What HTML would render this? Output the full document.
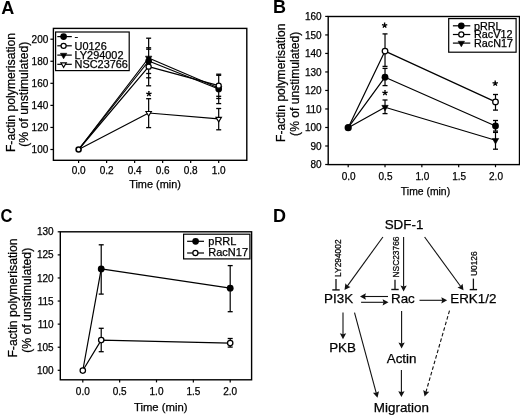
<!DOCTYPE html>
<html><head><meta charset="utf-8"><style>
html,body{margin:0;padding:0;background:#fff;}
svg{display:block;font-family:"Liberation Sans", sans-serif;filter:grayscale(1) blur(0.3px);}
text{stroke:#000;stroke-width:0.25px;}
text[font-weight=bold]{stroke-width:0;}
</style></head><body>
<svg width="520" height="415" viewBox="0 0 520 415">
<rect width="520" height="415" fill="#fff"/>
<text x="1.20" y="13.80" font-size="18" text-anchor="start" font-weight="bold" fill="#000" >A</text>
<rect x="53.4" y="28.4" width="193.4" height="131.9" fill="none" stroke="#000" stroke-width="1.4"/>
<line x1="50.40" y1="149.50" x2="53.40" y2="149.50" stroke="#000" stroke-width="1.2" />
<text x="48.30" y="153.10" font-size="10" text-anchor="end" font-weight="normal" fill="#000" >100</text>
<line x1="50.40" y1="127.44" x2="53.40" y2="127.44" stroke="#000" stroke-width="1.2" />
<text x="48.30" y="131.04" font-size="10" text-anchor="end" font-weight="normal" fill="#000" >120</text>
<line x1="50.40" y1="105.38" x2="53.40" y2="105.38" stroke="#000" stroke-width="1.2" />
<text x="48.30" y="108.98" font-size="10" text-anchor="end" font-weight="normal" fill="#000" >140</text>
<line x1="50.40" y1="83.32" x2="53.40" y2="83.32" stroke="#000" stroke-width="1.2" />
<text x="48.30" y="86.92" font-size="10" text-anchor="end" font-weight="normal" fill="#000" >160</text>
<line x1="50.40" y1="61.26" x2="53.40" y2="61.26" stroke="#000" stroke-width="1.2" />
<text x="48.30" y="64.86" font-size="10" text-anchor="end" font-weight="normal" fill="#000" >180</text>
<line x1="50.40" y1="39.20" x2="53.40" y2="39.20" stroke="#000" stroke-width="1.2" />
<text x="48.30" y="42.80" font-size="10" text-anchor="end" font-weight="normal" fill="#000" >200</text>
<line x1="78.60" y1="160.30" x2="78.60" y2="162.90" stroke="#000" stroke-width="1.2" />
<text x="78.60" y="173.80" font-size="10" text-anchor="middle" font-weight="normal" fill="#000" >0.0</text>
<line x1="106.62" y1="160.30" x2="106.62" y2="162.90" stroke="#000" stroke-width="1.2" />
<text x="106.62" y="173.80" font-size="10" text-anchor="middle" font-weight="normal" fill="#000" >0.2</text>
<line x1="134.64" y1="160.30" x2="134.64" y2="162.90" stroke="#000" stroke-width="1.2" />
<text x="134.64" y="173.80" font-size="10" text-anchor="middle" font-weight="normal" fill="#000" >0.4</text>
<line x1="162.66" y1="160.30" x2="162.66" y2="162.90" stroke="#000" stroke-width="1.2" />
<text x="162.66" y="173.80" font-size="10" text-anchor="middle" font-weight="normal" fill="#000" >0.6</text>
<line x1="190.68" y1="160.30" x2="190.68" y2="162.90" stroke="#000" stroke-width="1.2" />
<text x="190.68" y="173.80" font-size="10" text-anchor="middle" font-weight="normal" fill="#000" >0.8</text>
<line x1="218.70" y1="160.30" x2="218.70" y2="162.90" stroke="#000" stroke-width="1.2" />
<text x="218.70" y="173.80" font-size="10" text-anchor="middle" font-weight="normal" fill="#000" >1.0</text>
<text x="155.00" y="187.80" font-size="10.9" text-anchor="middle" font-weight="normal" fill="#000" >Time (min)</text>
<text transform="translate(14.60,92.50) rotate(-90) scale(1,1.0)" font-size="12.2" text-anchor="middle" fill="#000">F-actin polymerisation</text>
<text transform="translate(28.20,94.20) rotate(-90) scale(1,1.0)" font-size="12.2" text-anchor="middle" fill="#000">(% of unstimulated)</text>
<line x1="148.65" y1="38.20" x2="148.65" y2="85.80" stroke="#000" stroke-width="1.2" />
<line x1="146.15" y1="38.20" x2="151.15" y2="38.20" stroke="#000" stroke-width="1.3" />
<line x1="146.15" y1="47.80" x2="151.15" y2="47.80" stroke="#000" stroke-width="1.3" />
<line x1="146.15" y1="49.20" x2="151.15" y2="49.20" stroke="#000" stroke-width="1.3" />
<line x1="146.15" y1="73.50" x2="151.15" y2="73.50" stroke="#000" stroke-width="1.3" />
<line x1="146.15" y1="77.80" x2="151.15" y2="77.80" stroke="#000" stroke-width="1.3" />
<line x1="146.15" y1="85.80" x2="151.15" y2="85.80" stroke="#000" stroke-width="1.3" />
<line x1="148.65" y1="98.70" x2="148.65" y2="127.60" stroke="#000" stroke-width="1.2" />
<line x1="146.15" y1="98.70" x2="151.15" y2="98.70" stroke="#000" stroke-width="1.3" />
<line x1="146.15" y1="127.60" x2="151.15" y2="127.60" stroke="#000" stroke-width="1.3" />
<line x1="218.70" y1="74.20" x2="218.70" y2="103.60" stroke="#000" stroke-width="1.2" />
<line x1="216.20" y1="74.20" x2="221.20" y2="74.20" stroke="#000" stroke-width="1.3" />
<line x1="216.20" y1="75.30" x2="221.20" y2="75.30" stroke="#000" stroke-width="1.3" />
<line x1="216.20" y1="96.30" x2="221.20" y2="96.30" stroke="#000" stroke-width="1.3" />
<line x1="216.20" y1="98.50" x2="221.20" y2="98.50" stroke="#000" stroke-width="1.3" />
<line x1="216.20" y1="103.60" x2="221.20" y2="103.60" stroke="#000" stroke-width="1.3" />
<line x1="218.70" y1="108.50" x2="218.70" y2="129.80" stroke="#000" stroke-width="1.2" />
<line x1="216.20" y1="108.50" x2="221.20" y2="108.50" stroke="#000" stroke-width="1.3" />
<line x1="216.20" y1="129.80" x2="221.20" y2="129.80" stroke="#000" stroke-width="1.3" />
<polyline points="78.60,149.50 148.65,113.00 218.70,118.80" fill="none" stroke="#000" stroke-width="1.2" stroke-linejoin="round"/>
<polyline points="78.60,149.50 148.65,58.00 218.70,88.00" fill="none" stroke="#000" stroke-width="1.2" stroke-linejoin="round"/>
<polyline points="78.60,149.50 148.65,61.00 218.70,89.00" fill="none" stroke="#000" stroke-width="1.2" stroke-linejoin="round"/>
<polyline points="78.60,149.50 148.65,66.70 218.70,85.70" fill="none" stroke="#000" stroke-width="1.2" stroke-linejoin="round"/>
<polygon points="145.90,111.57 151.40,111.57 148.65,116.07" fill="#fff" stroke="#000" stroke-width="1.1" stroke-linejoin="miter"/>
<polygon points="215.95,117.37 221.45,117.37 218.70,121.87" fill="#fff" stroke="#000" stroke-width="1.1" stroke-linejoin="miter"/>
<circle cx="148.65" cy="61.00" r="3.35" fill="#000"/>
<polygon points="145.45,56.17 151.85,56.17 148.65,61.67" fill="#000" stroke="#000" stroke-width="0.6" stroke-linejoin="round"/>
<circle cx="218.70" cy="89.00" r="3.35" fill="#000"/>
<polygon points="215.50,86.47 221.90,86.47 218.70,91.97" fill="#000" stroke="#000" stroke-width="0.6" stroke-linejoin="round"/>
<circle cx="148.65" cy="66.70" r="2.55" fill="#fff" stroke="#000" stroke-width="1.25"/>
<circle cx="218.70" cy="85.70" r="2.55" fill="#fff" stroke="#000" stroke-width="1.25"/>
<circle cx="78.60" cy="149.50" r="2.5" fill="#fff" stroke="#000" stroke-width="1.6"/>
<path d="M148.90,93.90L148.90,91.10M148.90,93.90L151.56,93.03M148.90,93.90L150.55,96.17M148.90,93.90L147.25,96.17M148.90,93.90L146.24,93.03" stroke="#000" stroke-width="1.35" stroke-linecap="butt" fill="none"/>
<rect x="55.6" y="32.0" width="73.6" height="38.6" fill="#fff" stroke="#000" stroke-width="1.2"/>
<line x1="57.30" y1="36.60" x2="71.80" y2="36.60" stroke="#000" stroke-width="1.2" />
<line x1="57.30" y1="45.80" x2="71.80" y2="45.80" stroke="#000" stroke-width="1.2" />
<line x1="57.30" y1="55.10" x2="71.80" y2="55.10" stroke="#000" stroke-width="1.2" />
<line x1="57.30" y1="64.30" x2="71.80" y2="64.30" stroke="#000" stroke-width="1.2" />
<circle cx="63.60" cy="36.60" r="3.35" fill="#000"/>
<circle cx="63.60" cy="45.80" r="2.55" fill="#fff" stroke="#000" stroke-width="1.25"/>
<polygon points="60.40,53.27 66.80,53.27 63.60,58.77" fill="#000" stroke="#000" stroke-width="0.6" stroke-linejoin="round"/>
<polygon points="60.85,62.87 66.35,62.87 63.60,67.37" fill="#fff" stroke="#000" stroke-width="1.1" stroke-linejoin="miter"/>
<text x="74.60" y="40.40" font-size="10.9" text-anchor="start" font-weight="normal" fill="#000" >-</text>
<text x="74.60" y="49.60" font-size="10.9" text-anchor="start" font-weight="normal" fill="#000" >U0126</text>
<text x="74.60" y="58.90" font-size="10.9" text-anchor="start" font-weight="normal" fill="#000" >LY294002</text>
<text x="74.60" y="68.10" font-size="10.9" text-anchor="start" font-weight="normal" fill="#000" >NSC23766</text>
<text x="272.90" y="13.40" font-size="18" text-anchor="start" font-weight="bold" fill="#000" >B</text>
<rect x="328.2" y="16.5" width="191.3" height="148.1" fill="none" stroke="#000" stroke-width="1.4"/>
<line x1="325.20" y1="164.50" x2="328.20" y2="164.50" stroke="#000" stroke-width="1.2" />
<text x="321.60" y="168.10" font-size="10" text-anchor="end" font-weight="normal" fill="#000" >80</text>
<line x1="325.20" y1="145.99" x2="328.20" y2="145.99" stroke="#000" stroke-width="1.2" />
<text x="321.60" y="149.59" font-size="10" text-anchor="end" font-weight="normal" fill="#000" >90</text>
<line x1="325.20" y1="127.48" x2="328.20" y2="127.48" stroke="#000" stroke-width="1.2" />
<text x="321.60" y="131.08" font-size="10" text-anchor="end" font-weight="normal" fill="#000" >100</text>
<line x1="325.20" y1="108.97" x2="328.20" y2="108.97" stroke="#000" stroke-width="1.2" />
<text x="321.60" y="112.57" font-size="10" text-anchor="end" font-weight="normal" fill="#000" >110</text>
<line x1="325.20" y1="90.46" x2="328.20" y2="90.46" stroke="#000" stroke-width="1.2" />
<text x="321.60" y="94.06" font-size="10" text-anchor="end" font-weight="normal" fill="#000" >120</text>
<line x1="325.20" y1="71.95" x2="328.20" y2="71.95" stroke="#000" stroke-width="1.2" />
<text x="321.60" y="75.55" font-size="10" text-anchor="end" font-weight="normal" fill="#000" >130</text>
<line x1="325.20" y1="53.44" x2="328.20" y2="53.44" stroke="#000" stroke-width="1.2" />
<text x="321.60" y="57.04" font-size="10" text-anchor="end" font-weight="normal" fill="#000" >140</text>
<line x1="325.20" y1="34.93" x2="328.20" y2="34.93" stroke="#000" stroke-width="1.2" />
<text x="321.60" y="38.53" font-size="10" text-anchor="end" font-weight="normal" fill="#000" >150</text>
<line x1="325.20" y1="16.42" x2="328.20" y2="16.42" stroke="#000" stroke-width="1.2" />
<text x="321.60" y="20.02" font-size="10" text-anchor="end" font-weight="normal" fill="#000" >160</text>
<line x1="348.20" y1="164.60" x2="348.20" y2="167.20" stroke="#000" stroke-width="1.2" />
<text x="348.70" y="179.80" font-size="10" text-anchor="middle" font-weight="normal" fill="#000" >0.0</text>
<line x1="385.02" y1="164.60" x2="385.02" y2="167.20" stroke="#000" stroke-width="1.2" />
<text x="385.52" y="179.80" font-size="10" text-anchor="middle" font-weight="normal" fill="#000" >0.5</text>
<line x1="421.85" y1="164.60" x2="421.85" y2="167.20" stroke="#000" stroke-width="1.2" />
<text x="422.35" y="179.80" font-size="10" text-anchor="middle" font-weight="normal" fill="#000" >1.0</text>
<line x1="458.68" y1="164.60" x2="458.68" y2="167.20" stroke="#000" stroke-width="1.2" />
<text x="459.18" y="179.80" font-size="10" text-anchor="middle" font-weight="normal" fill="#000" >1.5</text>
<line x1="495.50" y1="164.60" x2="495.50" y2="167.20" stroke="#000" stroke-width="1.2" />
<text x="496.00" y="179.80" font-size="10" text-anchor="middle" font-weight="normal" fill="#000" >2.0</text>
<text x="425.50" y="195.40" font-size="10.4" text-anchor="middle" font-weight="normal" fill="#000" >Time (min)</text>
<text transform="translate(284.80,82.80) rotate(-90) scale(1,1.0)" font-size="12.1" text-anchor="middle" fill="#000">F-actin polymerisation</text>
<text transform="translate(298.80,83.80) rotate(-90) scale(1,1.0)" font-size="12.1" text-anchor="middle" fill="#000">(% of unstimulated)</text>
<line x1="385.02" y1="33.90" x2="385.02" y2="66.40" stroke="#000" stroke-width="1.2" />
<line x1="382.52" y1="33.90" x2="387.52" y2="33.90" stroke="#000" stroke-width="1.3" />
<line x1="382.52" y1="66.40" x2="387.52" y2="66.40" stroke="#000" stroke-width="1.3" />
<line x1="385.02" y1="68.40" x2="385.02" y2="85.60" stroke="#000" stroke-width="1.2" />
<line x1="382.52" y1="68.40" x2="387.52" y2="68.40" stroke="#000" stroke-width="1.3" />
<line x1="382.52" y1="85.60" x2="387.52" y2="85.60" stroke="#000" stroke-width="1.3" />
<line x1="385.02" y1="100.00" x2="385.02" y2="113.60" stroke="#000" stroke-width="1.2" />
<line x1="382.52" y1="100.00" x2="387.52" y2="100.00" stroke="#000" stroke-width="1.3" />
<line x1="382.52" y1="113.60" x2="387.52" y2="113.60" stroke="#000" stroke-width="1.3" />
<line x1="495.50" y1="94.50" x2="495.50" y2="110.10" stroke="#000" stroke-width="1.2" />
<line x1="493.00" y1="94.50" x2="498.00" y2="94.50" stroke="#000" stroke-width="1.3" />
<line x1="493.00" y1="110.10" x2="498.00" y2="110.10" stroke="#000" stroke-width="1.3" />
<line x1="495.50" y1="120.50" x2="495.50" y2="131.10" stroke="#000" stroke-width="1.2" />
<line x1="493.00" y1="120.50" x2="498.00" y2="120.50" stroke="#000" stroke-width="1.3" />
<line x1="493.00" y1="131.10" x2="498.00" y2="131.10" stroke="#000" stroke-width="1.3" />
<line x1="495.50" y1="132.40" x2="495.50" y2="149.20" stroke="#000" stroke-width="1.2" />
<line x1="493.00" y1="132.40" x2="498.00" y2="132.40" stroke="#000" stroke-width="1.3" />
<line x1="493.00" y1="149.20" x2="498.00" y2="149.20" stroke="#000" stroke-width="1.3" />
<polyline points="348.20,127.70 385.02,107.20 495.50,140.30" fill="none" stroke="#000" stroke-width="1.2" stroke-linejoin="round"/>
<polyline points="348.20,127.70 385.02,77.20 495.50,126.00" fill="none" stroke="#000" stroke-width="1.2" stroke-linejoin="round"/>
<polyline points="348.20,127.70 385.02,51.10 495.50,101.90" fill="none" stroke="#000" stroke-width="1.2" stroke-linejoin="round"/>
<polygon points="381.82,105.37 388.22,105.37 385.02,110.87" fill="#000" stroke="#000" stroke-width="0.6" stroke-linejoin="round"/>
<polygon points="492.30,138.47 498.70,138.47 495.50,143.97" fill="#000" stroke="#000" stroke-width="0.6" stroke-linejoin="round"/>
<circle cx="385.02" cy="77.20" r="3.4" fill="#000"/>
<circle cx="495.50" cy="126.00" r="3.4" fill="#000"/>
<circle cx="385.02" cy="51.10" r="2.8" fill="#fff" stroke="#000" stroke-width="1.25"/>
<circle cx="495.50" cy="101.90" r="2.8" fill="#fff" stroke="#000" stroke-width="1.25"/>
<circle cx="348.20" cy="127.70" r="3.6" fill="#000"/>
<path d="M384.60,25.40L384.60,22.60M384.60,25.40L387.26,24.53M384.60,25.40L386.25,27.67M384.60,25.40L382.95,27.67M384.60,25.40L381.94,24.53" stroke="#000" stroke-width="1.35" stroke-linecap="butt" fill="none"/>
<path d="M385.00,92.90L385.00,90.10M385.00,92.90L387.66,92.03M385.00,92.90L386.65,95.17M385.00,92.90L383.35,95.17M385.00,92.90L382.34,92.03" stroke="#000" stroke-width="1.35" stroke-linecap="butt" fill="none"/>
<path d="M495.20,83.40L495.20,80.60M495.20,83.40L497.86,82.53M495.20,83.40L496.85,85.67M495.20,83.40L493.55,85.67M495.20,83.40L492.54,82.53" stroke="#000" stroke-width="1.35" stroke-linecap="butt" fill="none"/>
<rect x="448.7" y="18.6" width="67.4" height="33.6" fill="#fff" stroke="#000" stroke-width="1.2"/>
<line x1="452.90" y1="25.80" x2="470.30" y2="25.80" stroke="#000" stroke-width="1.2" />
<line x1="452.90" y1="34.50" x2="470.30" y2="34.50" stroke="#000" stroke-width="1.2" />
<line x1="452.90" y1="43.10" x2="470.30" y2="43.10" stroke="#000" stroke-width="1.2" />
<circle cx="461.30" cy="25.80" r="3.35" fill="#000"/>
<circle cx="461.30" cy="34.50" r="2.55" fill="#fff" stroke="#000" stroke-width="1.25"/>
<polygon points="458.10,41.27 464.50,41.27 461.30,46.77" fill="#000" stroke="#000" stroke-width="0.6" stroke-linejoin="round"/>
<text x="474.00" y="29.60" font-size="10.8" text-anchor="start" font-weight="normal" fill="#000" >pRRL</text>
<text x="474.00" y="38.30" font-size="10.8" text-anchor="start" font-weight="normal" fill="#000" >RacV12</text>
<text x="474.00" y="46.90" font-size="10.8" text-anchor="start" font-weight="normal" fill="#000" >RacN17</text>
<text transform="translate(0.60,222.30) scale(0.92,1)" font-size="18" text-anchor="start" font-weight="bold" fill="#000" >C</text>
<rect x="60.3" y="231.8" width="191.3" height="148.0" fill="none" stroke="#000" stroke-width="1.4"/>
<line x1="57.70" y1="370.30" x2="60.30" y2="370.30" stroke="#000" stroke-width="1.2" />
<text x="53.60" y="373.90" font-size="10" text-anchor="end" font-weight="normal" fill="#000" >100</text>
<line x1="57.70" y1="347.22" x2="60.30" y2="347.22" stroke="#000" stroke-width="1.2" />
<text x="53.60" y="350.82" font-size="10" text-anchor="end" font-weight="normal" fill="#000" >105</text>
<line x1="57.70" y1="324.13" x2="60.30" y2="324.13" stroke="#000" stroke-width="1.2" />
<text x="53.60" y="327.73" font-size="10" text-anchor="end" font-weight="normal" fill="#000" >110</text>
<line x1="57.70" y1="301.05" x2="60.30" y2="301.05" stroke="#000" stroke-width="1.2" />
<text x="53.60" y="304.65" font-size="10" text-anchor="end" font-weight="normal" fill="#000" >115</text>
<line x1="57.70" y1="277.96" x2="60.30" y2="277.96" stroke="#000" stroke-width="1.2" />
<text x="53.60" y="281.56" font-size="10" text-anchor="end" font-weight="normal" fill="#000" >120</text>
<line x1="57.70" y1="254.88" x2="60.30" y2="254.88" stroke="#000" stroke-width="1.2" />
<text x="53.60" y="258.48" font-size="10" text-anchor="end" font-weight="normal" fill="#000" >125</text>
<line x1="57.70" y1="231.79" x2="60.30" y2="231.79" stroke="#000" stroke-width="1.2" />
<text x="53.60" y="235.39" font-size="10" text-anchor="end" font-weight="normal" fill="#000" >130</text>
<line x1="82.80" y1="379.80" x2="82.80" y2="382.40" stroke="#000" stroke-width="1.2" />
<text x="82.80" y="394.70" font-size="10" text-anchor="middle" font-weight="normal" fill="#000" >0.0</text>
<line x1="119.65" y1="379.80" x2="119.65" y2="382.40" stroke="#000" stroke-width="1.2" />
<text x="119.65" y="394.70" font-size="10" text-anchor="middle" font-weight="normal" fill="#000" >0.5</text>
<line x1="156.50" y1="379.80" x2="156.50" y2="382.40" stroke="#000" stroke-width="1.2" />
<text x="156.50" y="394.70" font-size="10" text-anchor="middle" font-weight="normal" fill="#000" >1.0</text>
<line x1="193.35" y1="379.80" x2="193.35" y2="382.40" stroke="#000" stroke-width="1.2" />
<text x="193.35" y="394.70" font-size="10" text-anchor="middle" font-weight="normal" fill="#000" >1.5</text>
<line x1="230.20" y1="379.80" x2="230.20" y2="382.40" stroke="#000" stroke-width="1.2" />
<text x="230.20" y="394.70" font-size="10" text-anchor="middle" font-weight="normal" fill="#000" >2.0</text>
<text x="160.70" y="411.30" font-size="11.3" text-anchor="middle" font-weight="normal" fill="#000" >Time (min)</text>
<text transform="translate(17.10,298.00) rotate(-90) scale(1,1.0)" font-size="12.2" text-anchor="middle" fill="#000">F-actin polymerisation</text>
<text transform="translate(30.80,300.30) rotate(-90) scale(1,1.0)" font-size="12.2" text-anchor="middle" fill="#000">(% of unstimulated)</text>
<line x1="101.22" y1="244.80" x2="101.22" y2="294.10" stroke="#000" stroke-width="1.2" />
<line x1="98.72" y1="244.80" x2="103.72" y2="244.80" stroke="#000" stroke-width="1.3" />
<line x1="98.72" y1="294.10" x2="103.72" y2="294.10" stroke="#000" stroke-width="1.3" />
<line x1="230.20" y1="265.60" x2="230.20" y2="311.70" stroke="#000" stroke-width="1.2" />
<line x1="227.70" y1="265.60" x2="232.70" y2="265.60" stroke="#000" stroke-width="1.3" />
<line x1="227.70" y1="311.70" x2="232.70" y2="311.70" stroke="#000" stroke-width="1.3" />
<line x1="101.22" y1="328.30" x2="101.22" y2="351.70" stroke="#000" stroke-width="1.2" />
<line x1="98.72" y1="328.30" x2="103.72" y2="328.30" stroke="#000" stroke-width="1.3" />
<line x1="98.72" y1="351.70" x2="103.72" y2="351.70" stroke="#000" stroke-width="1.3" />
<line x1="230.20" y1="338.50" x2="230.20" y2="347.10" stroke="#000" stroke-width="1.2" />
<line x1="227.70" y1="338.50" x2="232.70" y2="338.50" stroke="#000" stroke-width="1.3" />
<line x1="227.70" y1="347.10" x2="232.70" y2="347.10" stroke="#000" stroke-width="1.3" />
<polyline points="82.80,370.50 101.22,268.90 230.20,288.20" fill="none" stroke="#000" stroke-width="1.2" stroke-linejoin="round"/>
<polyline points="82.80,370.50 101.22,340.10 230.20,343.10" fill="none" stroke="#000" stroke-width="1.2" stroke-linejoin="round"/>
<circle cx="101.22" cy="268.90" r="3.4" fill="#000"/>
<circle cx="230.20" cy="288.20" r="3.4" fill="#000"/>
<circle cx="101.22" cy="340.10" r="2.7" fill="#fff" stroke="#000" stroke-width="1.25"/>
<circle cx="230.20" cy="343.10" r="2.7" fill="#fff" stroke="#000" stroke-width="1.25"/>
<circle cx="82.80" cy="370.60" r="2.7" fill="#fff" stroke="#000" stroke-width="1.25"/>
<rect x="183.6" y="234.2" width="66.3" height="24.7" fill="#fff" stroke="#000" stroke-width="1.2"/>
<line x1="187.10" y1="241.30" x2="204.00" y2="241.30" stroke="#000" stroke-width="1.2" />
<line x1="187.10" y1="253.00" x2="204.00" y2="253.00" stroke="#000" stroke-width="1.2" />
<circle cx="195.60" cy="241.30" r="3.35" fill="#000"/>
<circle cx="195.40" cy="253.00" r="2.55" fill="#fff" stroke="#000" stroke-width="1.25"/>
<text x="208.30" y="244.60" font-size="11.0" text-anchor="start" font-weight="normal" fill="#000" >pRRL</text>
<text x="208.30" y="256.30" font-size="11.0" text-anchor="start" font-weight="normal" fill="#000" >RacN17</text>
<text x="272.90" y="221.60" font-size="18" text-anchor="start" font-weight="bold" fill="#000" >D</text>
<text x="404.00" y="228.80" font-size="13.4" text-anchor="middle" font-weight="normal" fill="#000" >SDF-1</text>
<text x="338.60" y="303.20" font-size="13.4" text-anchor="middle" font-weight="normal" fill="#000" >PI3K</text>
<text x="402.90" y="302.60" font-size="13.4" text-anchor="middle" font-weight="normal" fill="#000" >Rac</text>
<text x="473.30" y="302.90" font-size="13.4" text-anchor="middle" font-weight="normal" fill="#000" >ERK1/2</text>
<text x="342.60" y="352.30" font-size="13.4" text-anchor="middle" font-weight="normal" fill="#000" >PKB</text>
<text x="401.60" y="362.80" font-size="13.4" text-anchor="middle" font-weight="normal" fill="#000" >Actin</text>
<text x="401.40" y="412.10" font-size="13.4" text-anchor="middle" font-weight="normal" fill="#000" >Migration</text>
<text transform="translate(340.60,258.20) rotate(-90) scale(1,1.0)" font-size="8.4" text-anchor="middle" fill="#000">LY294002</text>
<text transform="translate(398.60,257.00) rotate(-90) scale(1,1.0)" font-size="8.4" text-anchor="middle" fill="#000">NSC23766</text>
<text transform="translate(477.30,263.70) rotate(-90) scale(1,1.0)" font-size="8.4" text-anchor="middle" fill="#000">U0126</text>
<line x1="336.00" y1="278.90" x2="336.00" y2="289.90" stroke="#111" stroke-width="1.3" />
<line x1="332.30" y1="289.90" x2="339.70" y2="289.90" stroke="#111" stroke-width="1.4" />
<line x1="395.00" y1="279.80" x2="395.00" y2="289.50" stroke="#111" stroke-width="1.3" />
<line x1="391.30" y1="289.50" x2="398.70" y2="289.50" stroke="#111" stroke-width="1.4" />
<line x1="473.40" y1="278.60" x2="473.40" y2="289.60" stroke="#111" stroke-width="1.3" />
<line x1="469.70" y1="289.60" x2="477.10" y2="289.60" stroke="#111" stroke-width="1.4" />
<line x1="382.90" y1="237.00" x2="347.27" y2="286.08" stroke="#111" stroke-width="1.1" />
<polygon points="344.50,289.90 345.42,283.27 347.45,285.84 350.52,286.98" fill="#111"/>
<line x1="403.60" y1="237.00" x2="403.60" y2="286.68" stroke="#111" stroke-width="1.1" />
<polygon points="403.60,291.40 400.45,285.50 403.60,286.38 406.75,285.50" fill="#111"/>
<line x1="424.60" y1="237.00" x2="460.72" y2="286.49" stroke="#111" stroke-width="1.1" />
<polygon points="463.50,290.30 457.48,287.39 460.54,286.25 462.57,283.68" fill="#111"/>
<line x1="388.00" y1="296.50" x2="364.72" y2="296.50" stroke="#111" stroke-width="1.1" />
<polygon points="360.00,296.50 365.90,293.35 365.01,296.50 365.90,299.65" fill="#111"/>
<line x1="361.10" y1="302.30" x2="383.78" y2="302.30" stroke="#111" stroke-width="1.1" />
<polygon points="388.50,302.30 382.60,305.45 383.49,302.30 382.60,299.15" fill="#111"/>
<line x1="419.50" y1="300.30" x2="442.48" y2="300.30" stroke="#111" stroke-width="1.1" />
<polygon points="447.20,300.30 441.30,303.45 442.19,300.30 441.30,297.15" fill="#111"/>
<line x1="343.00" y1="312.60" x2="343.00" y2="334.48" stroke="#111" stroke-width="1.1" />
<polygon points="343.00,339.20 339.85,333.30 343.00,334.19 346.15,333.30" fill="#111"/>
<line x1="401.60" y1="311.00" x2="401.60" y2="343.78" stroke="#111" stroke-width="1.1" />
<polygon points="401.60,348.50 398.45,342.60 401.60,343.49 404.75,342.60" fill="#111"/>
<line x1="354.50" y1="312.60" x2="376.27" y2="393.14" stroke="#111" stroke-width="1.1" />
<polygon points="377.50,397.70 372.92,392.83 376.19,392.86 379.00,391.18" fill="#111"/>
<line x1="401.40" y1="369.90" x2="401.40" y2="392.38" stroke="#111" stroke-width="1.1" />
<polygon points="401.40,397.10 398.25,391.20 401.40,392.09 404.55,391.20" fill="#111"/>
<line x1="449.50" y1="310.60" x2="425.91" y2="392.07" stroke="#111" stroke-width="1.1" stroke-dasharray="3.6,2.2"/>
<polygon points="424.60,396.60 423.22,390.06 425.99,391.78 429.27,391.81" fill="#111"/>
</svg>
</body></html>
